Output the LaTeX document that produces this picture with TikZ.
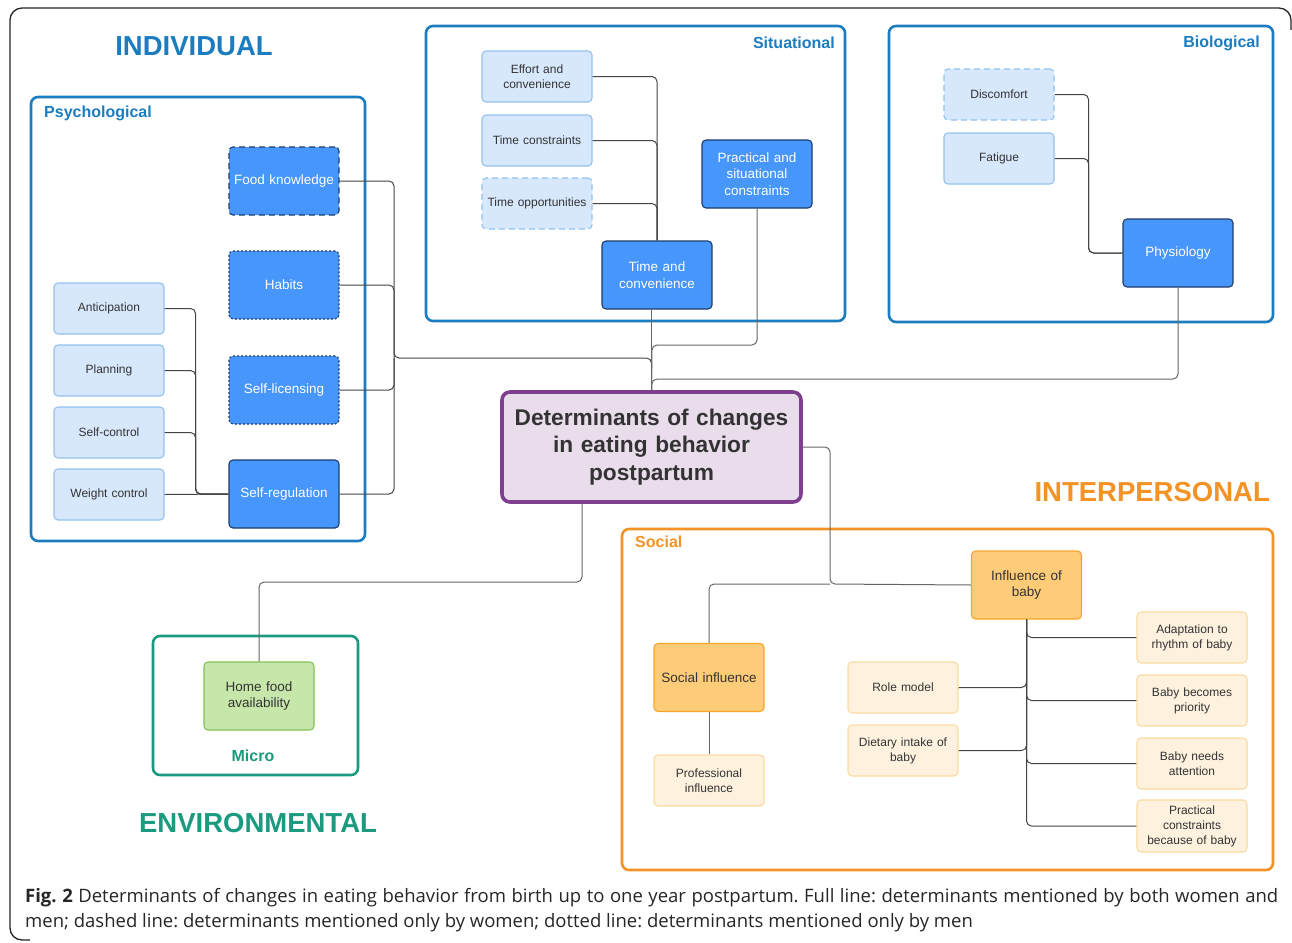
\documentclass[tikz,border=0pt]{standalone}
\usepackage{fontspec}
\setmainfont{Liberation Sans}
\newfontfamily\capfont{Open Sans}
\usetikzlibrary{calc}
\definecolor{catblue}{HTML}{1B7DC0}
\definecolor{catorange}{HTML}{F39325}
\definecolor{catteal}{HTML}{1A9A7E}
\definecolor{darkfill}{HTML}{4696FB}
\definecolor{darkline}{HTML}{1E3D6B}
\definecolor{lightfill}{HTML}{D7E8FC}
\definecolor{lightline}{HTML}{92C2EF}
\definecolor{orfill}{HTML}{FECB78}
\definecolor{orline}{HTML}{F6A52B}
\definecolor{lofill}{HTML}{FEF2DF}
\definecolor{loline}{HTML}{FCDAA2}
\definecolor{grfill}{HTML}{C6E6AA}
\definecolor{grline}{HTML}{86C15A}
\definecolor{purpline}{HTML}{7E3F8E}
\definecolor{purpfill}{HTML}{E9DDEB}
\definecolor{txt}{HTML}{333333}
\definecolor{conncol}{HTML}{444444}
\tikzset{
  base/.style={rounded corners=4pt, align=center, inner sep=2pt, text width=104pt, line width=1.1pt},
  darkbox/.style={base, fill=darkfill, draw=darkline, text=white, font=\fontsize{13.5}{16.5}\selectfont, minimum width=110pt, minimum height=68pt},
  lightbox/.style={base, fill=lightfill, draw=lightline, text=txt, font=\fontsize{12}{15}\selectfont, minimum width=110pt, minimum height=51pt},
  orbox/.style={base, fill=orfill, draw=orline, text=txt, font=\fontsize{13.5}{16.5}\selectfont, minimum width=110pt, minimum height=68pt},
  lobox/.style={base, fill=lofill, draw=loline, text=txt, font=\fontsize{12}{15}\selectfont, minimum width=110pt, minimum height=51pt},
  grbox/.style={base, fill=grfill, draw=grline, text=txt, font=\fontsize{13.5}{16.5}\selectfont, minimum width=110pt, minimum height=68pt},
  womenonly/.style={dash pattern=on 6pt off 4pt},
  menonly/.style={dash pattern=on 2pt off 2pt},
  catframe/.style={rounded corners=7pt, line width=2.6pt},
  catlabel/.style={font=\bfseries\fontsize{16}{18}\selectfont, inner sep=0pt},
  biglabel/.style={font=\bfseries\fontsize{27.5}{30}\selectfont, inner sep=0pt},
  conn/.style={draw=conncol, line width=1pt, rounded corners=5pt},
}
\begin{document}
\begin{tikzpicture}[x=1pt,y=-1pt]
\useasboundingbox (0,0) rectangle (1292,942);
\fill[white] (0,0) rectangle (1292,942);
% outer frame
\draw[line width=1.3pt, rounded corners=12pt, draw=black!85] (1291,30) -- (1291,8) -- (10,8) -- (10,940) -- (30,940);

% category frames
\draw[catframe, draw=catblue] (31,97) rectangle (365,541);
\draw[catframe, draw=catblue] (426,26) rectangle (845,321);
\draw[catframe, draw=catblue] (889,26) rectangle (1273,322);
\draw[catframe, draw=catorange] (622,529) rectangle (1273,870);
\draw[catframe, draw=catteal] (153,636) rectangle (358,775);

\node[biglabel, text=catblue] (lindiv) at (194,46) {INDIVIDUAL};
\node[biglabel, text=catorange, anchor=east] (linter) at (1270,492) {INTERPERSONAL};
\node[biglabel, text=catteal] (lenv) at (258,823) {ENVIRONMENTAL};
\node[catlabel, text=catblue, anchor=west] (lpsy) at (44,113) {Psychological};
\node[catlabel, text=catblue, anchor=east] (lsit) at (835,43) {Situational};
\node[catlabel, text=catblue, anchor=east] (lbio) at (1260,43) {Biological};
\node[catlabel, text=catorange, anchor=west] (lsoc) at (635,542) {Social};
\node[catlabel, text=catteal] (lmic) at (253,756) {Micro};

% psychological
\node[darkbox, womenonly] (foodk) at (284,181) {Food knowledge};
\node[darkbox, menonly] (habits) at (284,285) {Habits};
\node[darkbox, menonly] (selflic) at (284,390) {Self-licensing};
\node[darkbox] (selfreg) at (284,494) {Self-regulation};
\node[lightbox] (antic) at (109,308.5) {Anticipation};
\node[lightbox] (plan) at (109,370.5) {Planning};
\node[lightbox] (selfc) at (109,432.5) {Self-control};
\node[lightbox] (weight) at (109,494.5) {Weight control};

% situational
\node[lightbox] (effort) at (537,76.5) {Effort and\\convenience};
\node[lightbox] (tcons) at (537,140.5) {Time constraints};
\node[lightbox, womenonly] (topp) at (537,203.5) {Time opportunities};
\node[darkbox] (tconv) at (657,275) {Time and\\convenience};
\node[darkbox] (pract) at (757,174) {Practical and\\situational\\constraints};

% biological
\node[lightbox, womenonly] (discomf) at (999,94.5) {Discomfort};
\node[lightbox] (fatigue) at (999,158.5) {Fatigue};
\node[darkbox] (physio) at (1178,253) {Physiology};

% center
\node[rounded corners=8pt, line width=3.6pt, draw=purpline, fill=purpfill, text=txt,
  minimum width=299pt, minimum height=110pt, text width=292pt, align=center,
  font=\bfseries\fontsize{22.7}{27.5}\selectfont] (center) at (651.5,447)
  {Determinants of changes\\in eating behavior\\postpartum};

% social
\node[orbox] (infbaby) at (1026.5,585) {Influence of\\baby};
\node[orbox] (socinf) at (709,677.5) {Social influence};
\node[lobox] (prof) at (709,780.5) {Professional\\influence};
\node[lobox] (role) at (903,687.5) {Role model};
\node[lobox] (diet) at (903,750.5) {Dietary intake of\\baby};
\node[lobox] (adapt) at (1192,637.5) {Adaptation to\\rhythm of baby};
\node[lobox] (becomes) at (1192,700.5) {Baby becomes\\priority};
\node[lobox] (needs) at (1192,763.5) {Baby needs\\attention};
\node[lobox, minimum height=52pt] (praccb) at (1192,826) {Practical\\constraints\\because of baby};

% environmental
\node[grbox] (homefood) at (259,696) {Home food\\availability};

% junction coordinates
\coordinate (busP) at (394,358);
\coordinate (jP) at (652,345);
\coordinate (jB) at (652,379);
\coordinate (jS) at (830,584);
\coordinate (jE) at (582,582);

% connectors psychological
\draw[conn] (antic.east) -- ++(31,0) |- (selfreg.west);
\draw[conn] (plan.east) -- ++(31,0) |- (selfreg.west);
\draw[conn] (selfc.east) -- ++(31,0) |- (selfreg.west);
\draw[conn] (weight.east) -- (selfreg.west);
\draw[conn] (foodk.east) -| (busP) -| (center.north);
\draw[conn] (habits.east) -| (busP);
\draw[conn] (selflic.east) -| (busP);
\draw[conn] (selfreg.east) -| (busP);

% connectors situational
\draw[conn] (effort.east) -| (tconv.north);
\draw[conn] (tcons.east) -| (tconv.north);
\draw[conn] (topp.east) -| (tconv.north);
\draw[conn, draw=black!60] (tconv.south -| center.north) -- (center.north);
\draw[conn, draw=black!60] (pract.south) |- (jP) -- (center.north);

% connectors biological
\draw[conn] (discomf.east) -- ++(34,0) |- (physio.west);
\draw[conn] (fatigue.east) -- ++(34,0) |- (physio.west);
\draw[conn, draw=black!60] (physio.south) |- (jB) -- (center.north);

% connectors interpersonal / environmental
\draw[conn, draw=black!60] (center.east) -| (jS) -- (infbaby.west);
\draw[conn, draw=black!60] (jS) -| (socinf.north);
\draw[conn, draw=black!60] (socinf.south) -- (prof.north);
\draw[conn, draw=black!60] (center.south -| jE) -- (jE) -| (homefood.north);
\draw[conn] (infbaby.south) |- (adapt.west);
\draw[conn] (infbaby.south) |- (becomes.west);
\draw[conn] (infbaby.south) |- (needs.west);
\draw[conn] (infbaby.south) |- (praccb.west);
\draw[conn] (role.east) -| (infbaby.south);
\draw[conn] (diet.east) -| (infbaby.south);

% caption
\node[anchor=north west, inner sep=0pt, text width=1253pt, align=justify,
  font=\capfont\fontsize{18.5}{25}\selectfont\frenchspacing, text=black!85] (caption) at (25,888)
  {\textbf{Fig.~2} Determinants of changes in eating behavior from birth up to one year postpartum. Full line: determinants mentioned by both women and\linebreak men; dashed line: determinants mentioned only by women; dotted line: determinants mentioned only by men};
\end{tikzpicture}
\end{document}
